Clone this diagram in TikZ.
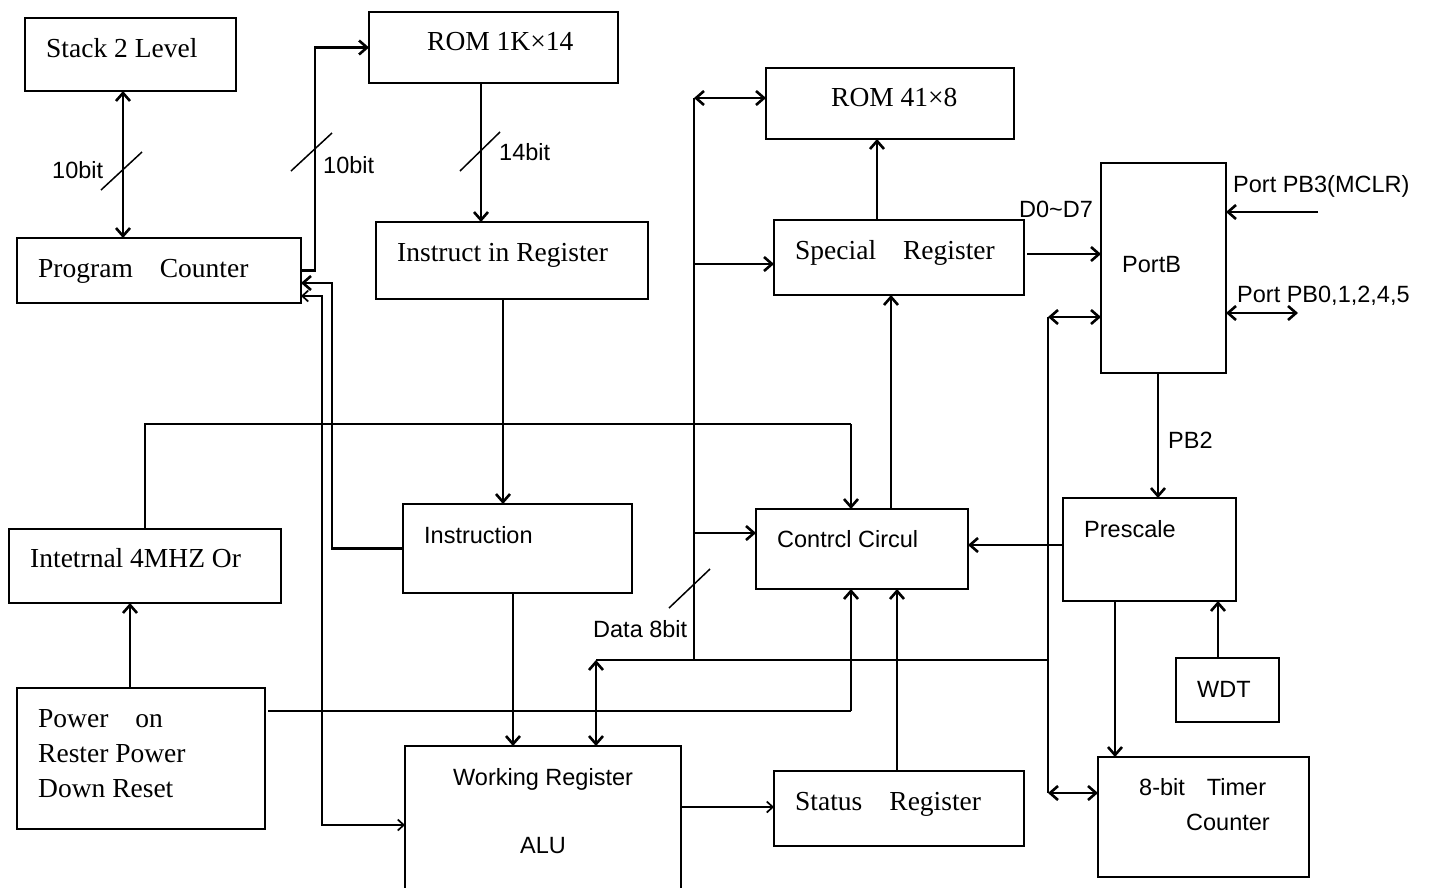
\documentclass[tikz,border=0pt]{standalone}
\usepackage{fontspec}
\setmainfont{Liberation Serif}
\setsansfont{Liberation Sans}
\usetikzlibrary{arrows.meta}
\newcommand\mkbox[5]{\node[box,minimum width={(#4-#2)*1pt},minimum height={(#5-#3)*1pt}] (#1) at (#2,#3) {};}
\begin{document}
\begin{tikzpicture}[x=1pt,y=-1pt,
  box/.style={draw,line width=2pt,inner sep=0pt,outer sep=0pt,anchor=north west},
  lbl/.style={anchor=base west,inner sep=0pt,font=\fontsize{27.5}{32}\selectfont},
  slbl/.style={anchor=base west,inner sep=0pt,font=\sffamily\fontsize{23.5}{28}\selectfont},
  conn/.style={line width=2.6pt,>={Straight Barb[length=8pt,width=14pt]}},
  thinc/.style={line width=1.7pt,>={Straight Barb[length=6pt,width=11pt]}},
  slash/.style={line width=1.5pt}]
\useasboundingbox (0,0) rectangle (1430,887);

% boxes
\mkbox{stack}{25}{18}{236}{91}
\mkbox{rom1}{369}{12}{618}{83}
\mkbox{pc}{17}{238}{301}{303}
\mkbox{ir}{376}{222}{648}{299}
\mkbox{rom2}{766}{68}{1014}{139}
\mkbox{spec}{774}{220}{1024}{295}
\mkbox{portb}{1101}{163}{1226}{373}
\mkbox{osc}{9}{529}{281}{603}
\mkbox{instr}{403}{504}{632}{593}
\mkbox{ctrl}{756}{509}{968}{589}
\mkbox{presc}{1063}{498}{1236}{601}
\mkbox{power}{17}{688}{265}{829}
\mkbox{alu}{405}{746}{681}{905}
\mkbox{status}{774}{771}{1024}{846}
\mkbox{wdt}{1176}{658}{1279}{722}
\mkbox{timer}{1098}{757}{1309}{877}

% texts
\node[lbl] (tstack) at (46,57) {Stack 2 Level};
\node[lbl] (trom1) at (427,50) {ROM 1K×14};
\node[lbl] (tpc) at (38,277) {Program\hspace{27pt}Counter};
\node[lbl] (tir) at (397,261) {Instruct in Register};
\node[lbl] (trom2) at (831,106) {ROM 41×8};
\node[lbl] (tspec) at (795,259) {Special\hspace{27pt}Register};
\node[slbl] (tportb) at (1122,272) {PortB};
\node[slbl] (td07) at (1019,217) {D0\textasciitilde D7};
\node[slbl] (tpb3) at (1233,192) {Port PB3(MCLR)};
\node[slbl] (tpb0) at (1237,302) {Port PB0,1,2,4,5};
\node[slbl] (tpb2) at (1168,448) {PB2};
\node[slbl] (t10a) at (52,178) {10bit};
\node[slbl] (t10b) at (323,173) {10bit};
\node[slbl] (t14) at (499,160) {14bit};
\node[lbl] (tosc) at (30,567) {Intetrnal 4MHZ Or};
\node[lbl] (tpw1) at (38,727) {Power\hspace{27pt}on};
\node[lbl] (tpw2) at (38,762) {Rester Power};
\node[lbl] (tpw3) at (38,797) {Down Reset};
\node[slbl] (tinstr) at (424,543) {Instruction};
\node[slbl] (tdata) at (593,637) {Data 8bit};
\node[slbl] (twr) at (453,785) {Working Register};
\node[slbl] (talu) at (520,853) {ALU};
\node[slbl] (tctrl) at (777,547) {Contrcl Circul};
\node[lbl] (tstat) at (795,810) {Status\hspace{27pt}Register};
\node[slbl] (tpresc) at (1084,537) {Prescale};
\node[slbl] (twdt) at (1197,697) {WDT};
\node[slbl] (ttim1) at (1139,795) {8-bit\hspace{22pt}Timer};
\node[slbl] (ttim2) at (1186,830) {Counter};

% junction coordinates
\coordinate (xa) at (123,0);
\coordinate (xc) at (481,0);
\coordinate (j1) at (332,283);
\coordinate (j2) at (322,296);
\coordinate (j3) at (322,825);
\coordinate (xf) at (503,0);
\coordinate (xg) at (513,0);
\coordinate (j4) at (145,424);
\coordinate (j5) at (851,424);
\coordinate (xr) at (130,0);
\coordinate (j6) at (851,711);
\coordinate (b1) at (694,98);
\coordinate (b2) at (694,660);
\coordinate (b3) at (596,660);
\coordinate (b4) at (1048,660);
\coordinate (b5) at (1048,317);
\coordinate (b6) at (1048,793);
\coordinate (b7) at (694,264);
\coordinate (b8) at (694,533);
\coordinate (xj) at (877,0);
\coordinate (xk) at (891,0);
\coordinate (xn) at (897,0);
\coordinate (ym) at (0,254);
\coordinate (pb3) at (1318,212);
\coordinate (pb0) at (1298,313);
\coordinate (xo) at (1158,0);
\coordinate (yq) at (0,545);
\coordinate (xp) at (1115,0);
\coordinate (xq) at (1218,0);
\coordinate (yr) at (0,807);

% connectors
\draw[conn,<->] (xa |- stack.south) -- (xa |- pc.north);
\draw[conn,->] (pc.east) -- ++(14,0) |- (rom1.west);
\draw[conn,->] (xc |- rom1.south) -- (xc |- ir.north);
\draw[conn,->] (instr.west) -| (j1) -- (j1 -| pc.east);
\draw[thinc,<->] (j2 -| pc.east) -- (j2) -- (j3) -- (j3 -| alu.west);
\draw[conn,->] (xf |- ir.south) -- (xf |- instr.north);
\draw[conn,->] (xg |- instr.south) -- (xg |- alu.north);
\draw[thinc] (j4 |- osc.north) -- (j4) -- (j5);
\draw[conn,->] (j5) -- (j5 |- ctrl.north);
\draw[conn,->] (xr |- power.north) -- (xr |- osc.south);
\draw[thinc] ([xshift=3pt]power.east |- j6) -- (j6);
\draw[conn,->] (j6) -- (j6 |- ctrl.south);
\draw[thinc] (b1) -- (b2);
\draw[thinc] (b3) -- (b4);
\draw[thinc] (b5) -- (b6);
\draw[conn,<->] (b1) -- (b1 -| rom2.west);
\draw[conn,->] (b7) -- (b7 -| spec.west);
\draw[conn,->] (b8) -- (b8 -| ctrl.west);
\draw[conn,<->] (b3) -- (b3 |- alu.north);
\draw[conn,<->] (b5) -- (b5 -| portb.west);
\draw[conn,<->] (b6) -- (b6 -| timer.west);
\draw[conn,->] (xj |- spec.north) -- (xj |- rom2.south);
\draw[conn,->] (xk |- ctrl.north) -- (xk |- spec.south);
\draw[conn,->] (xn |- status.north) -- (xn |- ctrl.south);
\draw[conn,->] ([xshift=3pt]ym -| spec.east) -- (ym -| portb.west);
\draw[conn,->] (pb3) -- (pb3 -| portb.east);
\draw[conn,<->] (pb0 -| portb.east) -- (pb0);
\draw[conn,->] (xo |- portb.south) -- (xo |- presc.north);
\draw[conn,->] (yq -| presc.west) -- (yq -| ctrl.east);
\draw[conn,->] (xp |- presc.south) -- (xp |- timer.north);
\draw[conn,->] (xq |- wdt.north) -- (xq |- presc.south);
\draw[thinc,->] (yr -| alu.east) -- (yr -| status.west);

% bus-width slashes
\draw[slash] (101,190) -- (142,152);
\draw[slash] (291,171) -- (332,133);
\draw[slash] (460,171) -- (500,132);
\draw[slash] (669,608) -- (710,569);
\end{tikzpicture}
\end{document}
